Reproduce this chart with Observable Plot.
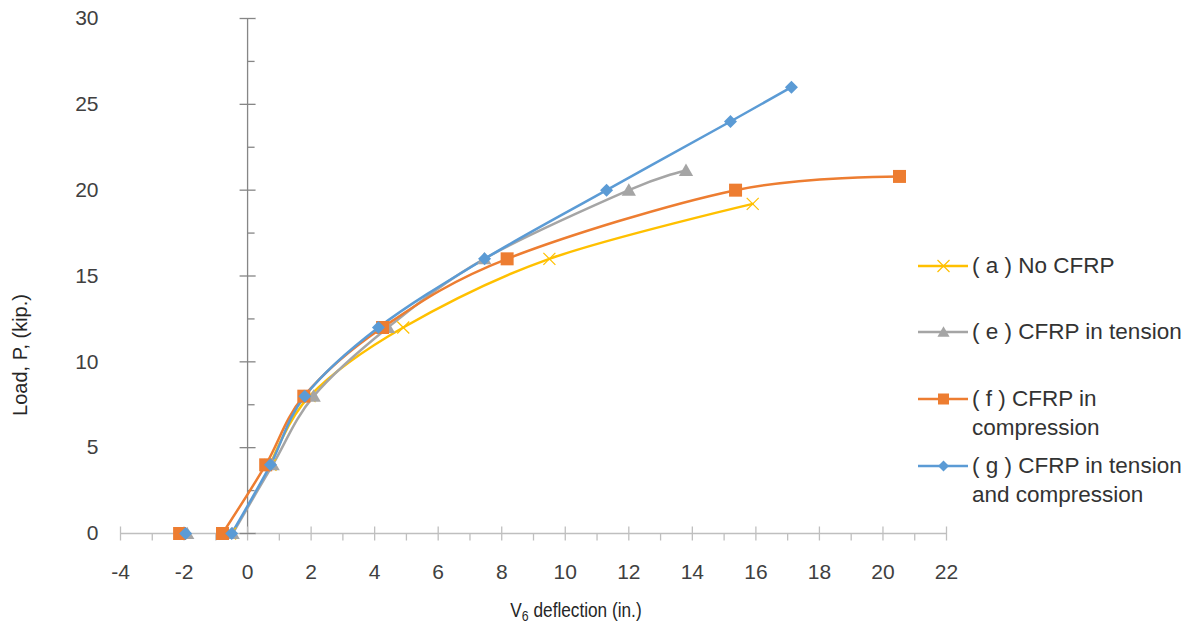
<!DOCTYPE html>
<html>
<head>
<meta charset="utf-8">
<script src="https://cdn.jsdelivr.net/npm/d3@7"></script>
<script src="https://cdn.jsdelivr.net/npm/@observablehq/plot@0.6"></script>
<style>
  html, body { margin: 0; padding: 0; background: #fff; }
  #wrap { position: relative; width: 1198px; height: 631px; font-family: "Liberation Sans", Arial, sans-serif; color: #404040; }
  #chart { position: absolute; left: 0; top: 0; }
  .ytitle { position: absolute; left: 20px; top: 355px; transform: translate(-50%, -50%) rotate(-90deg); font-size: 20px; white-space: nowrap; color: #262626; }
  .xtitle { position: absolute; left: 576px; top: 611px; transform: translate(-50%, -50%) scaleX(0.82); font-size: 21px; white-space: nowrap; color: #262626; }
  .legend { position: absolute; left: 918px; top: 0; font-size: 22.5px; color: #333; }
  .item { position: absolute; left: 0; display: flex; align-items: flex-start; white-space: nowrap; }
  .item svg { flex: none; margin-right: 4px; }
  .item div { line-height: 29px; }
</style>
</head>
<body>
<div id="wrap">
  <div id="chart"></div>
  <div class="ytitle">Load, P, (kip.)</div>
  <div class="xtitle">V<sub style="font-size:15px;vertical-align:-4px;">6</sub> deflection (in.)</div>
  <div class="legend" id="legend"></div>
</div>
<script>
// Load–deflection readings for each specimen (deflection in inches, load in kips)
const seriesNames = [
  "( a ) No CFRP",
  "( e ) CFRP in tension",
  "( f ) CFRP in compression",
  "( g ) CFRP in tension and compression"
];
const legendLines = [
  ["( a ) No CFRP"],
  ["( e ) CFRP in tension"],
  ["( f ) CFRP in", "compression"],
  ["( g ) CFRP in tension", "and compression"]
];
const colors = ["#FFC000", "#A5A5A5", "#ED7D31", "#5B9BD5"];

const defA = [-0.55, 0.72, 1.95, 4.9, 9.5, 15.9];
const loadA = [0, 4, 8, 12, 16, 19.2];

const defE = [-1.9, -0.47, 0.79, 2.08, 4.42, 7.45, 12.0, 13.8];
const loadE = [0, 0, 4, 8, 12, 16, 20, 21.15];

const defF = [-2.14, -0.79, 0.57, 1.77, 4.25, 8.17, 15.36, 20.52];
const loadF = [0, 0, 4, 8, 12, 16, 20, 20.8];

const defG = [-1.95, -0.5, 0.72, 1.8, 4.12, 7.46, 11.3, 15.2, 17.12];
const loadG = [0, 0, 4, 8, 12, 16, 20, 24, 26];

const xTicks = d3.range(-4, 23, 2);
const xMinorTicks = d3.range(-3, 22, 2);
const yTicks = d3.range(0, 31, 5);
const yMinorTicks = d3.range(2.5, 30, 5);

const rows = (name, xs, ys) => xs.map((x, i) => ({series: name, x, y: ys[i], i}));
const data = [
  rows(seriesNames[0], defA, loadA),
  rows(seriesNames[1], defE, loadE),
  rows(seriesNames[2], defF, loadF),
  rows(seriesNames[3], defG, loadG)
];

// Marker shapes drawn around the origin; size = π r²
const rOf = (size) => Math.sqrt(size / Math.PI);
const diamond = {draw(c, size) { const r = rOf(size); c.moveTo(0, -r); c.lineTo(r, 0); c.lineTo(0, r); c.lineTo(-r, 0); c.closePath(); }};
const square = {draw(c, size) { const r = rOf(size); c.rect(-r, -r, 2 * r, 2 * r); }};
const triangle = {draw(c, size) { const r = rOf(size); c.moveTo(0, -r * 1.05); c.lineTo(r * 1.1, r * 0.85); c.lineTo(-r * 1.1, r * 0.85); c.closePath(); }};
const cross = {draw(c, size) { const r = rOf(size); c.moveTo(-r, -r); c.lineTo(r, r); c.moveTo(r, -r); c.lineTo(-r, r); }};
// Axis tick shapes
const hTickBoth = {draw(c, size) { const r = rOf(size); c.moveTo(-r, 0); c.lineTo(r, 0); }};
const hTickIn = {draw(c, size) { const r = rOf(size); c.moveTo(0, 0); c.lineTo(r, 0); }};
const vTickBoth = {draw(c, size) { const r = rOf(size); c.moveTo(0, -r); c.lineTo(0, r); }};
const vTickOut = {draw(c, size) { const r = rOf(size); c.moveTo(0, 0); c.lineTo(0, r); }};

const symbols = [cross, triangle, square, diamond];
const radii = [6, 6.5, 6.5, 6.5];

const smooth = d3.curveCardinal.tension(0);

const marks = [
  // axis lines
  Plot.ruleY([0], {stroke: "#bfbfbf", strokeWidth: 1.3}),
  Plot.ruleX([0], {stroke: "#868686", strokeWidth: 1.3}),
  Plot.dot(xTicks, {x: d => d, y: 0, symbol: vTickBoth, r: 7, stroke: "#bfbfbf", strokeWidth: 1.3}),
  Plot.dot(xMinorTicks, {x: d => d, y: 0, symbol: vTickOut, r: 7, stroke: "#bfbfbf", strokeWidth: 1.3}),
  Plot.dot(yTicks, {x: 0, y: d => d, symbol: hTickBoth, r: 8, stroke: "#868686", strokeWidth: 1.3}),
  Plot.dot(yMinorTicks, {x: 0, y: d => d, symbol: hTickIn, r: 7, stroke: "#868686", strokeWidth: 1.3}),
  Plot.axisX({ticks: xTicks, tickSize: 0, tickPadding: 31, fontSize: 21, tickFormat: d => String(d).replace("−", "-"), fill: "#404040", label: null}),
  Plot.axisY({ticks: yTicks, tickSize: 0, tickPadding: 22, fontSize: 21, fill: "#404040", label: null})
];

data.forEach((rs, k) => {
  // the first reading sits apart on the axis; the curve starts at the second one
  marks.push(Plot.line(rs.slice(1), {x: "x", y: "y", stroke: colors[k], strokeWidth: 2.5, curve: smooth}));
});
data.forEach((rs, k) => {
  if (k === 0) {
    marks.push(Plot.dot(rs, {x: "x", y: "y", symbol: cross, r: radii[k], stroke: colors[k], strokeWidth: 1.2}));
  } else {
    marks.push(Plot.dot(rs, {x: "x", y: "y", symbol: symbols[k], r: radii[k], fill: colors[k], stroke: "none"}));
  }
});

const chart = Plot.plot({
  width: 1198,
  height: 631,
  marginLeft: 120,
  marginRight: 252,
  marginTop: 18,
  marginBottom: 98,
  style: {fontFamily: "'Liberation Sans', Arial, sans-serif", background: "white"},
  x: {domain: [-4, 22]},
  y: {domain: [0, 30]},
  marks
});
document.getElementById("chart").appendChild(chart);

// Legend
const legendTops = [251, 317, 384, 451];
const legend = document.getElementById("legend");
legendLines.forEach((lines, k) => {
  const item = document.createElement("div");
  item.className = "item";
  item.style.top = legendTops[k] + "px";
  const sample = Plot.plot({
    width: 50, height: 29, margin: 0,
    x: {domain: [0, 1], axis: null}, y: {domain: [0, 1], axis: null},
    marks: [
      Plot.ruleY([0.5], {stroke: colors[k], strokeWidth: 2.5}),
      k === 0
        ? Plot.dot([0.5], {x: d => d, y: 0.5, symbol: cross, r: 6, stroke: colors[k], strokeWidth: 1.2})
        : Plot.dot([0.5], {x: d => d, y: 0.5, symbol: symbols[k], r: 5.5, fill: colors[k]})
    ]
  });
  item.appendChild(sample);
  const txt = document.createElement("div");
  txt.innerHTML = lines.join("<br>");
  item.appendChild(txt);
  legend.appendChild(item);
});
</script>
</body>
</html>
